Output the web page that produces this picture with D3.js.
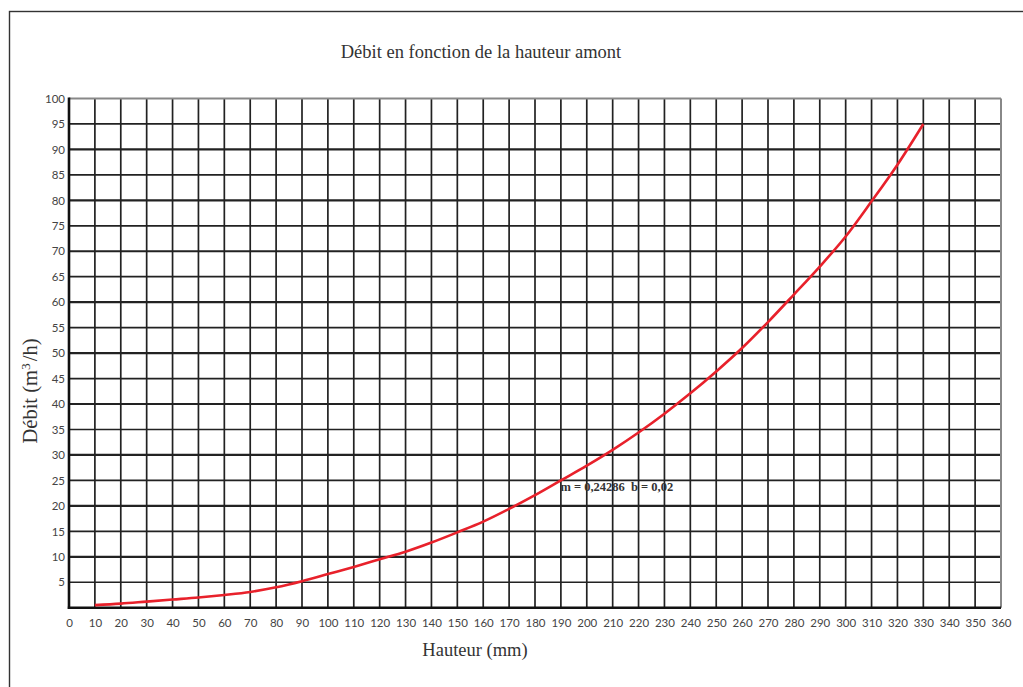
<!DOCTYPE html>
<html>
<head>
<meta charset="utf-8">
<script src="https://cdn.jsdelivr.net/npm/d3@7/dist/d3.min.js"></script>
<style>
  html, body { margin: 0; padding: 0; background: #fff; }
  svg { display: block; }
</style>
</head>
<body>
<svg id="chart" width="1023" height="687"></svg>
<script>
// Flow rate versus upstream head
const hauteur = [10, 20, 30, 40, 50, 60, 70, 80, 90, 100, 110, 120, 130, 140, 150, 160, 170,
                 180, 190, 200, 210, 220, 230, 240, 250, 260, 270, 280, 290, 300, 310, 320, 330];
const debit   = [0.5, 0.8, 1.2, 1.6, 2.0, 2.5, 3.1, 4.0, 5.2, 6.6, 8.0, 9.5, 11.0, 12.8, 14.8, 16.9, 19.4,
                 22.1, 25.0, 27.9, 31.0, 34.4, 38.1, 42.1, 46.4, 51.0, 56.1, 61.5, 67.0, 72.9, 79.8, 87.0, 95.0];
const xTicks = d3.range(0, 361, 10);
const yTicks = d3.range(5, 101, 5);
const annotation = "m = 0,24286  b = 0,02";
const annotationAt = [190, 23];

const W = 1023, H = 687;
const plot = { left: 69, right: 1001, top: 98.5, bottom: 607.7 };

const svg = d3.select("#chart");

// page frame
svg.append("rect")
  .attr("x", 9.5).attr("y", 11.5)
  .attr("width", W + 20).attr("height", H + 20)
  .attr("fill", "none").attr("stroke", "#333").attr("stroke-width", 1.4);

const x = d3.scaleLinear().domain([0, 360]).range([plot.left, plot.right]);
const y = d3.scaleLinear().domain([0, 100]).range([plot.bottom, plot.top]);

const grid = svg.append("g");

// vertical grid lines
grid.selectAll("line.v").data(xTicks.filter(d => d > 0 && d < 360)).join("line")
  .attr("class", "v")
  .attr("x1", d => x(d)).attr("x2", d => x(d))
  .attr("y1", plot.top).attr("y2", plot.bottom)
  .attr("stroke", "#222").attr("stroke-width", 1.7);

// horizontal grid lines, heavier every 10
grid.selectAll("line.h").data(yTicks.filter(d => d < 100)).join("line")
  .attr("class", "h")
  .attr("x1", plot.left).attr("x2", plot.right)
  .attr("y1", d => y(d)).attr("y2", d => y(d))
  .attr("stroke", "#222").attr("stroke-width", d => d % 10 === 0 ? 2.2 : 1.7);

// upper and right borders in grey
grid.append("line")
  .attr("x1", plot.left).attr("x2", plot.right)
  .attr("y1", y(100)).attr("y2", y(100))
  .attr("stroke", "#888").attr("stroke-width", 2);
grid.append("line")
  .attr("x1", x(360)).attr("x2", x(360))
  .attr("y1", plot.top).attr("y2", plot.bottom)
  .attr("stroke", "#888").attr("stroke-width", 2);

// main axes
grid.append("line")
  .attr("x1", plot.left).attr("x2", plot.left)
  .attr("y1", plot.top - 1).attr("y2", plot.bottom + 1.2)
  .attr("stroke", "#111").attr("stroke-width", 2.6);
grid.append("line")
  .attr("x1", plot.left - 1.2).attr("x2", plot.right)
  .attr("y1", plot.bottom).attr("y2", plot.bottom)
  .attr("stroke", "#111").attr("stroke-width", 2.6);

// tick labels via d3 axes (lines hidden)
const xAxis = svg.append("g")
  .attr("transform", `translate(0,${plot.bottom})`)
  .call(d3.axisBottom(x).tickValues(xTicks).tickSize(0).tickPadding(11).tickFormat(d3.format("d")));
const yAxis = svg.append("g")
  .attr("transform", `translate(${plot.left},0)`)
  .call(d3.axisLeft(y).tickValues(yTicks).tickSize(0).tickPadding(4).tickFormat(d3.format("d")));
[xAxis, yAxis].forEach(g => {
  g.select(".domain").remove();
  g.selectAll("text")
    .attr("font-family", "Lato, 'Open Sans', sans-serif")
    .attr("font-size", 11.5)
    .attr("fill", "#444");
});

// the curve
const pts = hauteur.map((h, i) => [h, debit[i]]);
svg.append("path")
  .datum(pts)
  .attr("fill", "none")
  .attr("stroke", "#e8212b")
  .attr("stroke-width", 2.6)
  .attr("d", d3.line().x(d => x(d[0])).y(d => y(d[1])).curve(d3.curveMonotoneX));

// fit annotation
svg.append("text")
  .attr("x", x(annotationAt[0]) - 0.5)
  .attr("y", y(annotationAt[1]) + 0.5)
  .attr("font-family", "'Liberation Serif', serif")
  .attr("font-weight", "bold")
  .attr("font-size", 12.5)
  .attr("fill", "#333")
  .attr("xml:space", "preserve")
  .text(annotation);

// titles
const serif = "'Liberation Serif', 'DejaVu Serif', serif";
svg.append("text")
  .attr("x", 481).attr("y", 58)
  .attr("text-anchor", "middle")
  .attr("font-family", serif).attr("font-size", 18.5).attr("fill", "#333")
  .text("Débit en fonction de la hauteur amont");

svg.append("text")
  .attr("x", 475).attr("y", 656)
  .attr("text-anchor", "middle")
  .attr("font-family", serif).attr("font-size", 18.5).attr("fill", "#333")
  .text("Hauteur (mm)");

const yl = svg.append("text")
  .attr("transform", "translate(37,391) rotate(-90)")
  .attr("text-anchor", "middle")
  .attr("font-family", serif).attr("font-size", 20.5).attr("fill", "#333");
yl.append("tspan").text("Débit (m");
yl.append("tspan").attr("dy", -7).attr("font-size", 13.5).text("3");
yl.append("tspan").attr("dy", 7).attr("dx", 2).text("/h)");
</script>
</body>
</html>
